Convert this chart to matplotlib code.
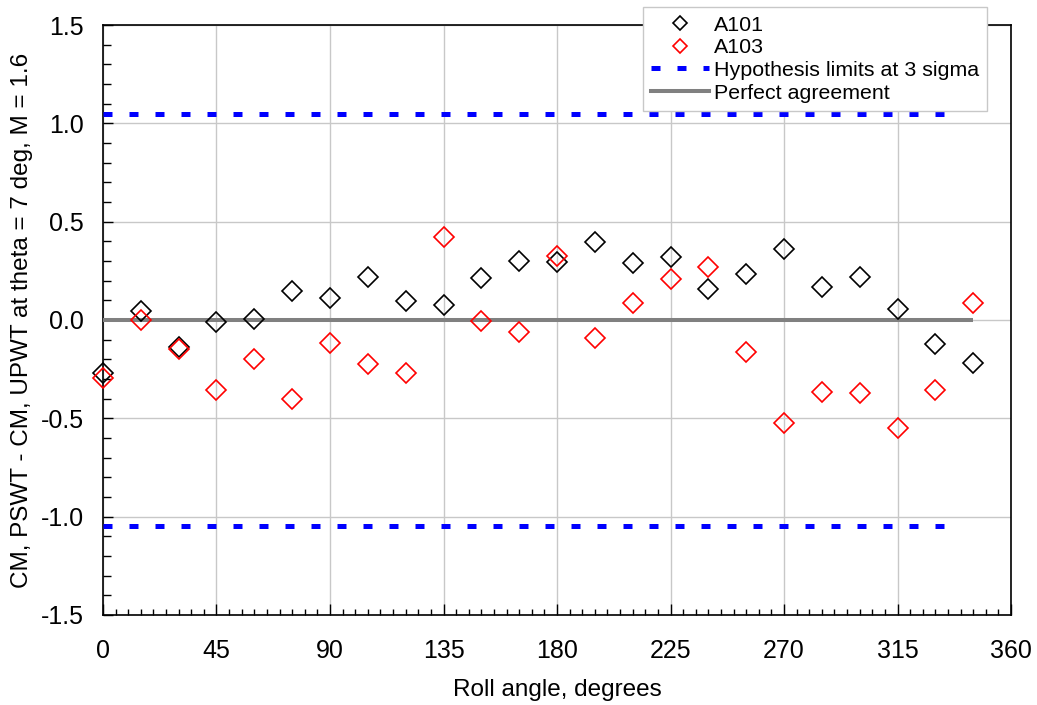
import matplotlib.pyplot as plt
from matplotlib.lines import Line2D
from matplotlib.ticker import MultipleLocator

plt.rcParams['font.family'] = ['Liberation Sans', 'DejaVu Sans']
plt.rcParams['axes.unicode_minus'] = False

# roll angle, degrees
roll = [0, 15, 30, 45, 60, 75, 90, 105, 120, 135, 150, 165,
        180, 195, 210, 225, 240, 255, 270, 285, 300, 315, 330, 345]
a101 = [-0.268, 0.046, -0.139, -0.008, 0.003, 0.149, 0.110, 0.219, 0.097, 0.075, 0.212, 0.302,
        0.297, 0.395, 0.291, 0.320, 0.156, 0.232, 0.361, 0.169, 0.220, 0.056, -0.124, -0.217]
a103 = [-0.297, 0.000, -0.147, -0.357, -0.198, -0.402, -0.115, -0.225, -0.271, 0.422, -0.003, -0.061,
        0.325, -0.092, 0.088, 0.207, 0.268, -0.163, -0.525, -0.364, -0.373, -0.551, -0.356, 0.086]

limit_x = [0, 340]
limit_hi = [1.05, 1.05]
limit_lo = [-1.05, -1.05]
perfect_x = [0, 345]
perfect_y = [0, 0]

fig = plt.figure(figsize=(10.37, 7.05), dpi=100)
ax = fig.add_axes([0.0993, 0.1277, 0.8757, 0.8368])

ax.plot(limit_x, limit_hi, color='#0000ff', lw=3.6, dashes=(1.8, 3.4), dash_capstyle='butt', zorder=3)
ax.plot(limit_x, limit_lo, color='#0000ff', lw=3.6, dashes=(1.8, 3.4), dash_capstyle='butt', zorder=3)
ax.plot(perfect_x, perfect_y, color='#808080', lw=2.9, solid_capstyle='butt', zorder=3)
ax.plot(roll, a101, 'D', ms=10, mfc='none', mec='black', mew=1.2, ls='none', clip_on=False, zorder=4)
ax.plot(roll, a103, 'D', ms=10, mfc='none', mec='red', mew=1.2, ls='none', clip_on=False, zorder=5)

ax.set_xlim(0, 360)
ax.set_ylim(-1.5, 1.5)
ax.xaxis.set_major_locator(MultipleLocator(45))
ax.xaxis.set_minor_locator(MultipleLocator(5))
ax.yaxis.set_major_locator(MultipleLocator(0.5))
ax.yaxis.set_minor_locator(MultipleLocator(0.1))
ax.yaxis.set_major_formatter(plt.FormatStrFormatter('%.1f'))
ax.grid(True, which='major', color='#c8c8c8', lw=1.0, zorder=0)
ax.set_axisbelow(True)

ax.tick_params(axis='x', which='major', direction='in', length=8, width=1, labelsize=18, pad=17)
ax.tick_params(axis='x', which='minor', direction='in', length=4, width=1)
ax.tick_params(axis='y', which='major', direction='in', length=7, width=1, labelsize=18, pad=14)
ax.tick_params(axis='y', which='minor', direction='in', length=6, width=1)
for s in ax.spines.values():
    s.set_linewidth(1.2)

ax.set_xlabel('Roll angle, degrees', fontsize=17.5, labelpad=12)
ax.set_ylabel('CM, PSWT - CM, UPWT at theta = 7 deg, M = 1.6', fontsize=17.5, labelpad=5)

handles = [
    Line2D([], [], marker='D', ms=7.5, mfc='none', mec='black', mew=1.2, ls='none'),
    Line2D([], [], marker='D', ms=7.5, mfc='none', mec='red', mew=1.2, ls='none'),
    Line2D([], [], color='#0000ff', lw=3.6, dashes=(1.8, 3.4), dash_capstyle='butt'),
    Line2D([], [], color='#808080', lw=2.9),
]
labels = ['A101', 'A103', 'Hypothesis limits at 3 sigma', 'Perfect agreement']
leg = fig.legend(handles, labels, loc='upper left', bbox_to_anchor=(0.620, 0.990),
                 fontsize=15.4, frameon=True, fancybox=False, edgecolor='#c8c8c8',
                 framealpha=1, handlelength=2.7, handletextpad=0.2, labelspacing=0.17,
                 borderpad=0.4, borderaxespad=0)
leg.get_frame().set_linewidth(1.0)
leg.set_zorder(10)

fig.savefig('out.png', dpi=100)
